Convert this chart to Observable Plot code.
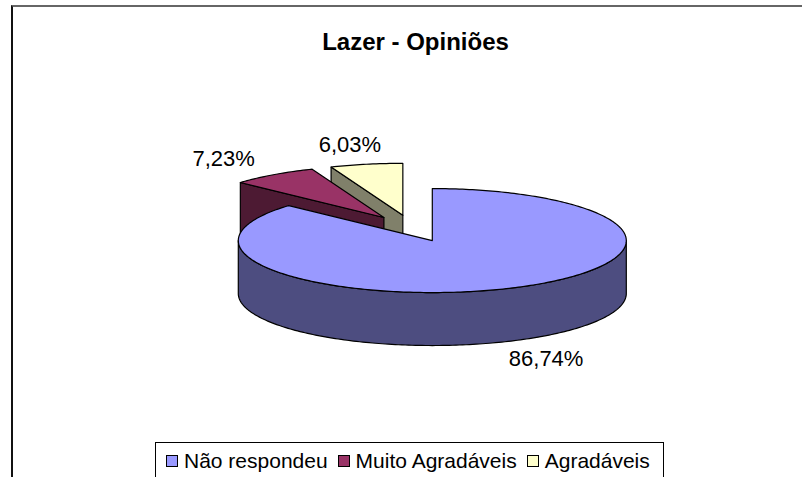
<!DOCTYPE html>
<html>
<head>
<meta charset="utf-8">
<script src="https://cdn.jsdelivr.net/npm/d3@7"></script>
<script src="https://cdn.jsdelivr.net/npm/@observablehq/plot@0.6"></script>
<style>
  body { margin: 0; background: #fff; font-family: "Liberation Sans", Arial, sans-serif; }
  #wrap { position: relative; width: 802px; height: 477px; overflow: hidden; }
  #frame { position: absolute; left: 11px; top: 5px; width: 808px; height: 500px;
           border-top: 2px solid #666; border-left: 2px solid #111; }
  #title { position: absolute; left: 13px; top: 28px; width: 805px; text-align: center;
           font-weight: bold; font-size: 24px; line-height: 28px; color: #000; }
  #chart { position: absolute; left: 0; top: 79px; }
  #legend { position: absolute; left: 155px; top: 442px; width: 509px; height: 40px;
            border: 1px solid #000; box-sizing: border-box; display: flex; align-items: flex-start;
            padding: 6px 0 0 10px; font-size: 21px; line-height: 23px; color: #000; white-space: nowrap; }
  .item { display: flex; align-items: center; margin-right: 10px; }
  .sw { width: 10px; height: 10px; border: 1px solid #000; margin-right: 6px; }
</style>
</head>
<body>
<div id="wrap">
  <div id="frame"></div>
  <div id="title"></div>
  <div id="chart"></div>
  <div id="legend"></div>
</div>
<script>
// ---- data ----
const title = "Lazer - Opiniões";
const categories = ["Não respondeu", "Muito Agradáveis", "Agradáveis"];
const values = [86.74, 7.23, 6.03];
const labels = ["86,74%", "7,23%", "6,03%"];
const topColors = ["#9999FF", "#993366", "#FFFFCC"];
const sideColors = ["#4D4D80", "#4D1A33", "#80806A"];

// ---- layout / style ----
const W = 802, H = 360;
const PX = 194;                 // pixels per pie radius
const cx0 = 411.7, cy0 = 148.9; // pie centre inside the svg (pixels)
const tilt = 0.268, depth = 0.273, explode = 0.256;
const labelKx = 1.45, labelKy = 1.37;

document.getElementById("title").textContent = title;

const total = d3.sum(values);
let acc = 0;
const slices = values.map((v, i) => {
  const a0 = acc / total * 2 * Math.PI; acc += v;
  const a1 = acc / total * 2 * Math.PI;
  const mid = (a0 + a1) / 2;
  return {i, a0, a1, mid, ox: explode * Math.sin(mid), oy: explode * tilt * Math.cos(mid)};
});
const P = (s, a, r = 1, down = 0) => ({x: s.ox + r * Math.sin(a), y: s.oy + r * tilt * Math.cos(a) - down});
const arc = (s, from, to, down = 0) => {
  const n = Math.max(2, Math.ceil(Math.abs(to - from) / (Math.PI / 180)));
  return d3.range(n + 1).map(k => P(s, from + (to - from) * k / n, 1, down));
};

const faces = [];
const order = slices.slice().sort((a, b) => b.oy - a.oy);
for (const s of order) {
  const eps = 1e-9;
  if (Math.cos(s.a0 - Math.PI / 2) < -eps)
    faces.push({fill: sideColors[s.i], pts: [P(s, s.a0, 0), P(s, s.a0, 1), P(s, s.a0, 1, depth), P(s, s.a0, 0, depth)]});
  if (Math.cos(s.a1 + Math.PI / 2) < -eps)
    faces.push({fill: sideColors[s.i], pts: [P(s, s.a1, 0), P(s, s.a1, 1), P(s, s.a1, 1, depth), P(s, s.a1, 0, depth)]});
  const lo = Math.max(s.a0, Math.PI / 2), hi = Math.min(s.a1, 3 * Math.PI / 2);
  if (lo < hi)
    faces.push({fill: sideColors[s.i], pts: [...arc(s, lo, hi), ...arc(s, hi, lo, depth)]});
  faces.push({fill: topColors[s.i], pts: [P(s, s.a0, 0), ...arc(s, s.a0, s.a1)]});
}

const labelData = slices.map(s => ({
  text: labels[s.i],
  x: s.ox + labelKx * Math.sin(s.mid),
  y: s.oy + labelKy * tilt * Math.cos(s.mid) - (Math.cos(s.mid) < 0 ? depth : 0)
}));

const svg = Plot.plot({
  width: W, height: H,
  margin: 0,
  x: {domain: [-cx0 / PX, (W - cx0) / PX], axis: null},
  y: {domain: [-(H - cy0) / PX, cy0 / PX], axis: null},
  marks: [
    ...faces.map(f => Plot.line(f.pts, {x: "x", y: "y", fill: f.fill, stroke: "#000", strokeWidth: 1.2,
                                        curve: "linear-closed", strokeLinejoin: "round"})),
    Plot.text(labelData, {x: "x", y: "y", text: "text", fontSize: 22, fill: "#000",
                          fontFamily: "Liberation Sans, Arial, sans-serif"})
  ]
});
document.getElementById("chart").appendChild(svg);

const legend = document.getElementById("legend");
categories.forEach((c, i) => {
  const it = document.createElement("div");
  it.className = "item";
  const sw = document.createElement("div");
  sw.className = "sw";
  sw.style.background = topColors[i];
  const t = document.createElement("span");
  t.textContent = c;
  it.appendChild(sw); it.appendChild(t);
  legend.appendChild(it);
});
</script>
</body>
</html>
